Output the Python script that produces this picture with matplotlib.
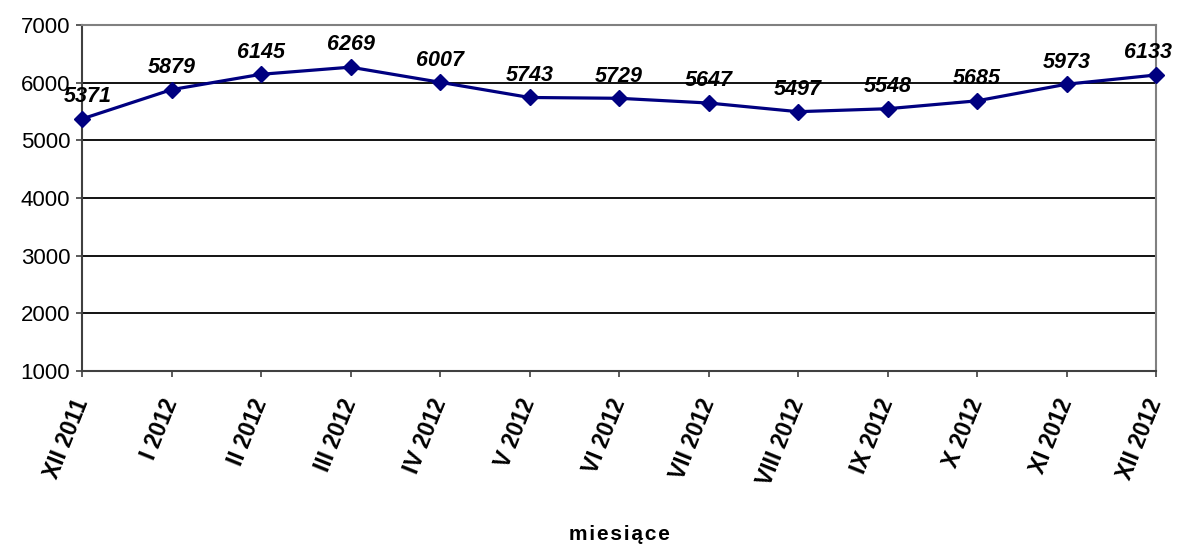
import matplotlib
matplotlib.use("Agg")
import matplotlib.pyplot as plt

categories = ["XII 2011", "I 2012", "II 2012", "III 2012", "IV 2012", "V 2012", "VI 2012",
              "VII 2012", "VIII 2012", "IX 2012", "X 2012", "XI 2012", "XII 2012"]
values = [5371, 5879, 6145, 6269, 6007, 5743, 5729, 5647, 5497, 5548, 5685, 5973, 6133]
yticks = [1000, 2000, 3000, 4000, 5000, 6000, 7000]

plt.rcParams['font.family'] = ['Liberation Sans', 'DejaVu Sans']

fig = plt.figure(figsize=(11.77, 5.45), dpi=100)
ax = fig.add_axes([82/1177, 1 - 371/545, (1156-82)/1177, (371-25)/545])

x = list(range(len(categories)))
ax.plot(x, values, color='#000080', linewidth=2.3, marker='D', markersize=8.5,
        markerfacecolor='#000080', markeredgecolor='#000080', zorder=5, clip_on=False)

n = len(values)
for i, (xi, v) in enumerate(zip(x, values)):
    dx = 4 if i == 0 else (-6 if i == n - 1 else 0)
    ax.annotate(f"{v}", (xi, v), xytext=(dx, 12), textcoords='offset points',
                ha='center', va='baseline', fontsize=15.5, fontweight='bold',
                fontstyle='italic', color='black', zorder=6)

ax.set_xlim(0, len(categories) - 1)
ax.set_ylim(1000, 7000)
ax.set_yticks(yticks)
ax.set_yticklabels([str(t) for t in yticks], fontsize=16)
ax.set_xticks(x)
ax.set_xticklabels(categories, rotation=68, ha='right', va='center',
                   rotation_mode='anchor', fontsize=16.5, fontweight='bold')
ax.tick_params(axis='x', length=4.5, width=1.2, color='#404040', pad=16, direction='out')
ax.tick_params(axis='y', length=4.5, width=1.2, color='#404040', pad=4, direction='out')

for yv in yticks[1:-1]:
    ax.axhline(yv, color='black', linewidth=1.3, zorder=1)

for s in ['top', 'right']:
    ax.spines[s].set_color('#808080')
    ax.spines[s].set_linewidth(1.5)
for s in ['left', 'bottom']:
    ax.spines[s].set_color('#404040')
    ax.spines[s].set_linewidth(1.5)

fig.text((82 + 1156) / 2 / 1177, 1 - 540/545, "\u200a".join("miesiące"),
         ha='center', va='baseline', fontsize=15, fontweight='bold')

fig.savefig("out.png", dpi=100, facecolor='white')
